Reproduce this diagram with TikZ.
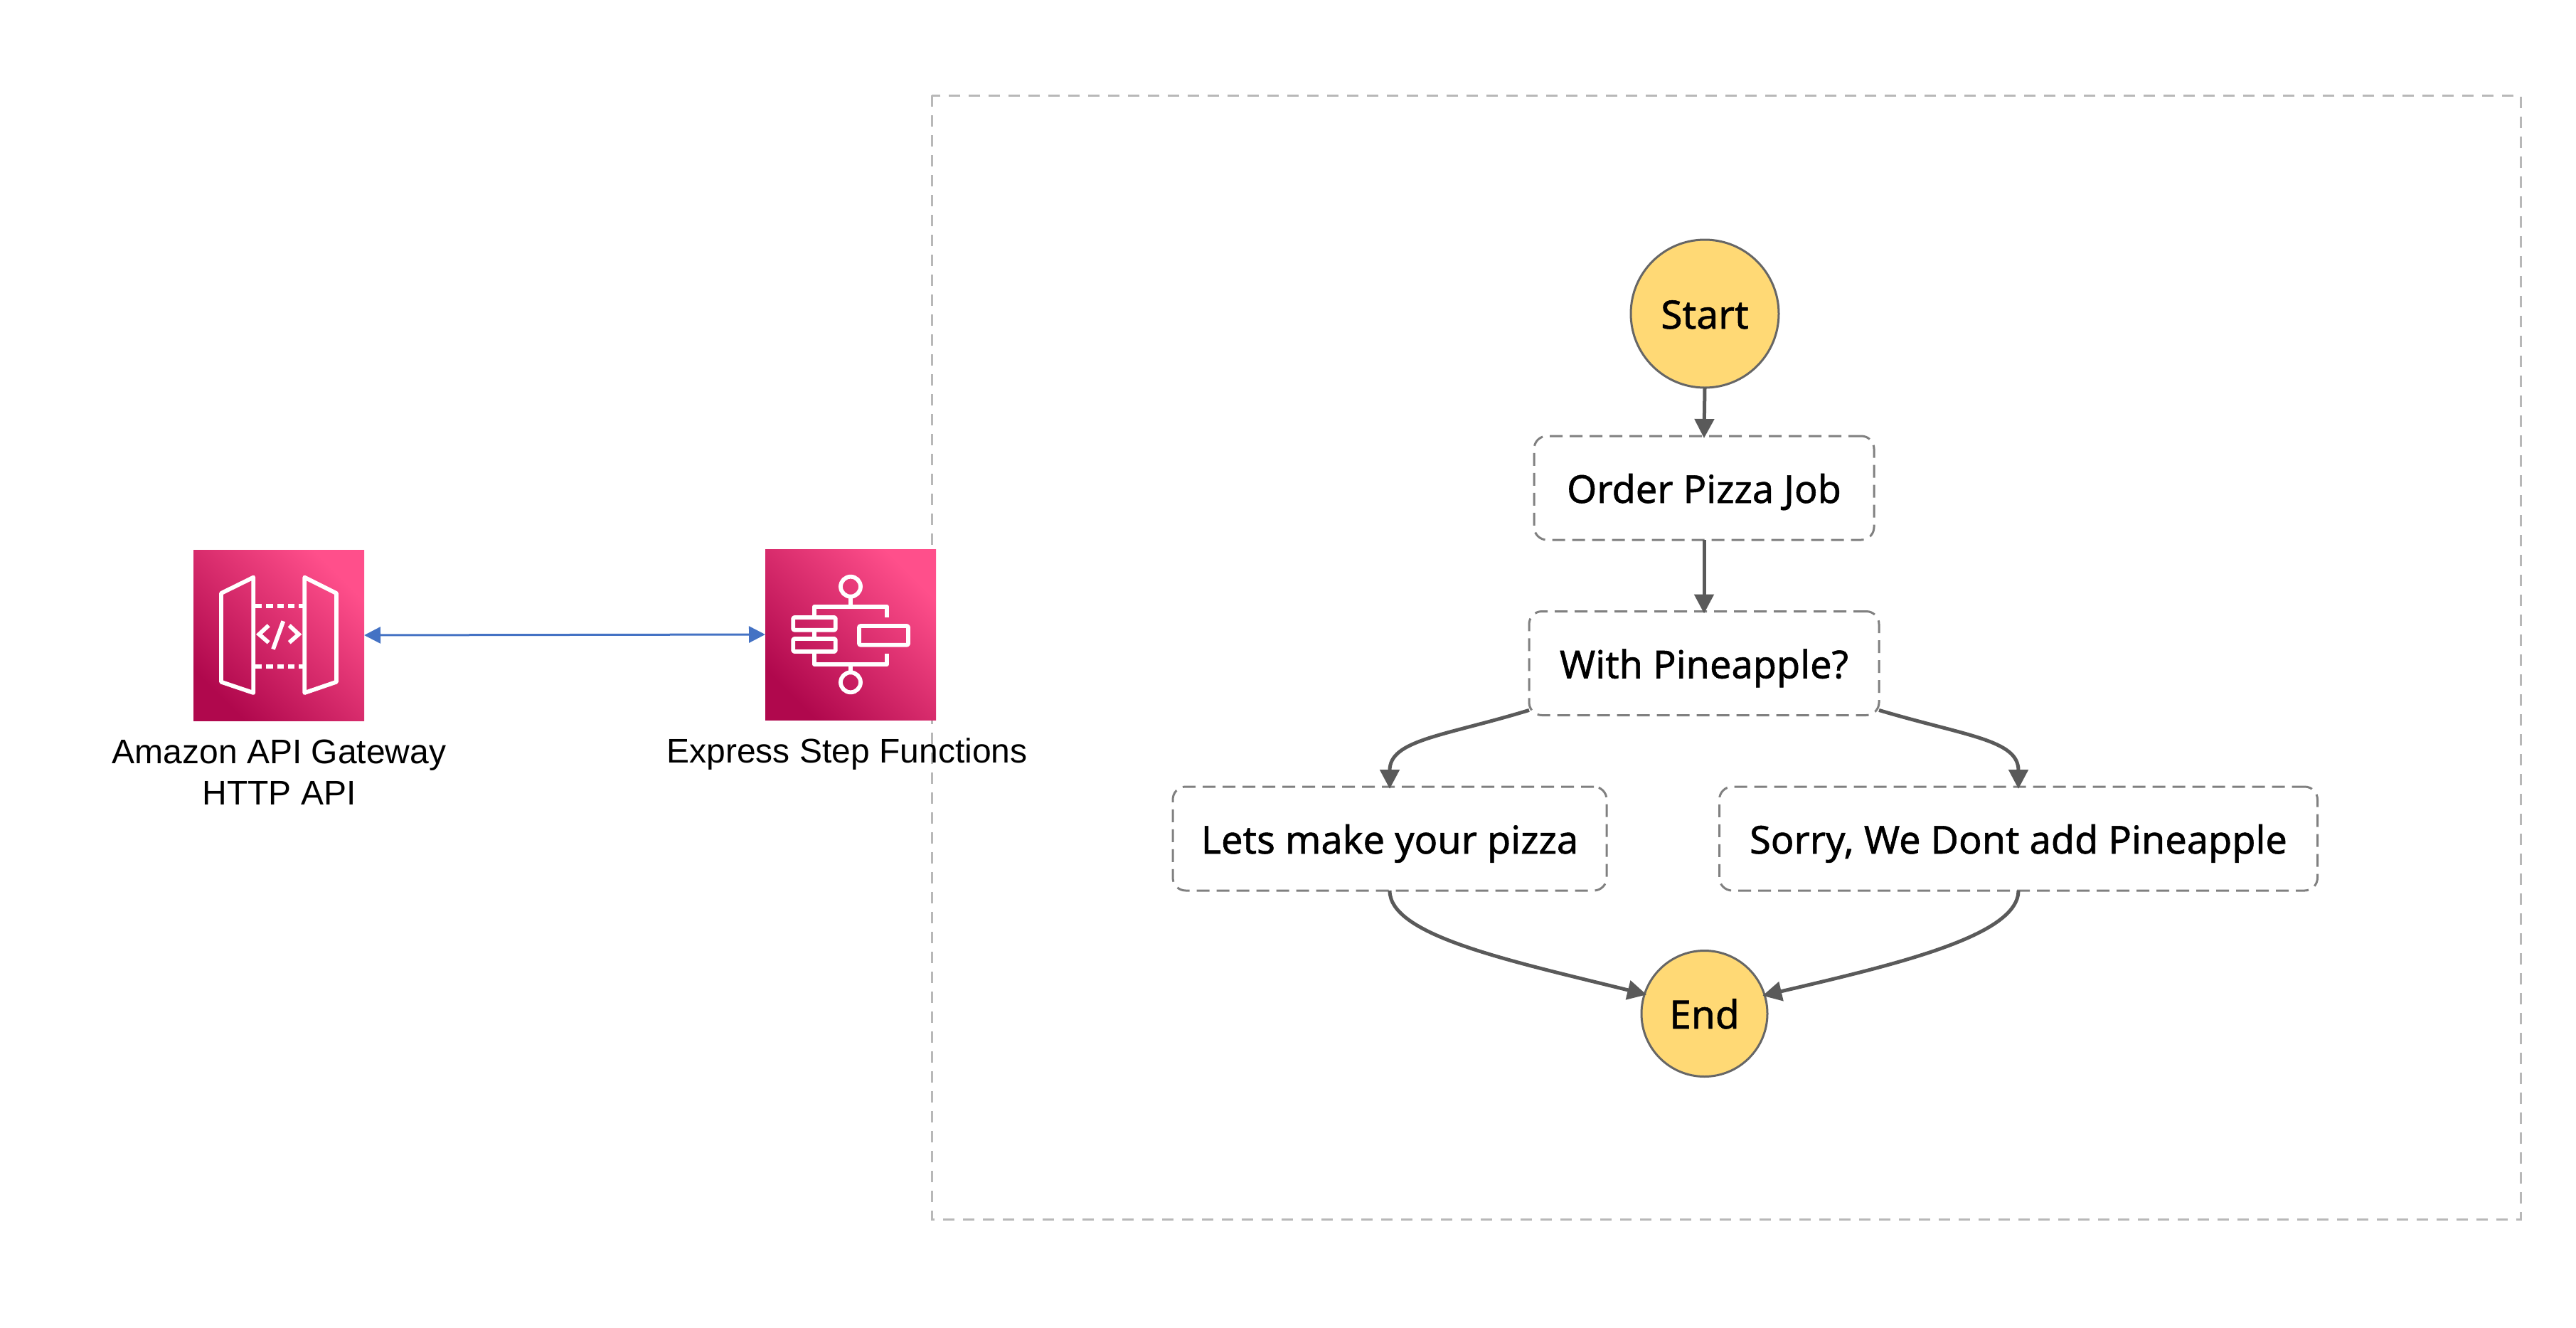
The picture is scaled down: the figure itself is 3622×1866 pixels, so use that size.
\documentclass[tikz,border=0pt]{standalone}
\usepackage{fontspec}
\setmainfont{Liberation Sans}
\newfontfamily\flowfont[FakeBold=1]{Noto Sans}
\usetikzlibrary{arrows.meta}
\definecolor{iconlow}{HTML}{B0084D}
\definecolor{iconhigh}{HTML}{FF4F8B}
\definecolor{stategold}{HTML}{FFD975}
\definecolor{flowgray}{HTML}{5A5A5A}
\definecolor{linkblue}{HTML}{4472C4}
\tikzset{
  icon/.style={bottom color=iconlow,top color=iconhigh,shading angle=-45,minimum size=240pt,inner sep=0pt,outer sep=0pt},
  glyph/.style={draw=white,line width=5.8pt,line join=round},
  glyphdash/.style={draw=white,line width=6pt,dash pattern=on 9.3pt off 6pt},
  caption/.style={font=\fontsize{48}{58}\selectfont,align=center,text=black},
  frame/.style={draw=black!28,line width=3pt,dash pattern=on 16pt off 12pt},
  statebox/.style={draw=black!50,line width=3pt,dash pattern=on 18pt off 10pt,rounded corners=18pt,font=\flowfont\fontsize{54}{60}\selectfont,text height=42pt,text depth=0pt,inner sep=0pt,outer sep=0pt},
  terminal/.style={circle,draw=black!60,line width=3pt,fill=stategold,font=\flowfont\fontsize{55}{60}\selectfont,text height=42pt,text depth=0pt,inner sep=0pt,outer sep=0pt},
  flow/.style={draw=flowgray,line width=5pt,-{Triangle[length=27pt,width=27pt]},shorten >=-3pt},
  link/.style={draw=linkblue,line width=3pt,{Triangle[length=23pt,width=23pt]}-{Triangle[length=23pt,width=23pt]}}
}
\begin{document}
\begin{tikzpicture}[x=1pt,y=-1pt]
\useasboundingbox (0,0) rectangle (3622,1866);
\fill[white] (0,0) rectangle (3622,1866);
% frame
\draw[frame] (1310,134) rectangle (3544,1714);
% gateway icon
\node[icon] (gw) at (392,893) {};
\draw[glyph] (311,834) -- (356.3,811.7) -- (356.3,974) -- (311,958.7) -- cycle;
\draw[glyph] (473,834) -- (428.3,811.7) -- (428.3,974) -- (473,958.7) -- cycle;
\draw[glyphdash] (359,852) -- (426,852);
\draw[glyphdash] (359,937) -- (426,937);
\draw[glyph,line join=miter] (377.7,879.3) -- (364.3,891.7) -- (377.7,903.3);
\draw[glyph,line join=miter] (406.7,879.3) -- (420,891.7) -- (406.7,903.3);
\draw[glyph] (398.3,873.3) -- (384,912.7);
% step functions icon
\node[icon] (sf) at (1196,892) {};
\draw[glyph] (1196,824.7) circle (14);
\draw[glyph] (1196,959.3) circle (14);
\draw[glyph] (1196,840) -- (1196,852.7);
\draw[glyph] (1145,866) -- (1145,852.7) -- (1247,852.7) -- (1247,868);
\draw[glyph,rounded corners=2pt] (1115.2,868) rectangle (1174.8,885.7);
\draw[glyph,rounded corners=2pt] (1115.2,898) rectangle (1174.8,916);
\draw[glyph] (1145,885.7) -- (1145,898);
\draw[glyph,rounded corners=2pt] (1208,880) rectangle (1277,906.7);
\draw[glyph] (1145,916) -- (1145,934) -- (1247,934) -- (1247,919);
\draw[glyph] (1196,934) -- (1196,945);
% captions
\node[caption] (gwlabel) at (392.5,1086) {Amazon API Gateway\\HTTP API};
\node[caption] (sflabel) at (1191,1060) {Express Step Functions};
\draw[link] (gw.east) -- (sf.west);
% state machine
\node[terminal,minimum size=208pt] (start) at (2397,441) {Start};
\node[statebox,minimum width=478pt,minimum height=146pt] (order) at (2396,686) {Order Pizza Job};
\node[statebox,minimum width=492pt,minimum height=146pt] (pine) at (2396,932.5) {With Pineapple?};
\node[statebox,minimum width=610pt,minimum height=146pt] (make) at (1954,1179) {Lets make your pizza};
\node[statebox,minimum width=841pt,minimum height=146pt] (sorry) at (2838,1179) {Sorry, We Dont add Pineapple};
\node[terminal,minimum size=177pt] (finish) at (2396.5,1425) {End};
\draw[flow] (start.south) -- (order.north);
\draw[flow] (order.south) -- (pine.north);
\draw[flow] (pine.195.7) .. controls (2030,1035) and (1954,1040) .. (make.north);
\draw[flow] (pine.-15.7) .. controls (2765,1035) and (2838,1040) .. (sorry.north);
\draw[flow] (make.south) .. controls (1954,1315) and (2120,1350) .. (finish.162.6);
\draw[flow] (sorry.south) .. controls (2838,1315) and (2670,1355) .. (finish.17.4);
\end{tikzpicture}
\end{document}
